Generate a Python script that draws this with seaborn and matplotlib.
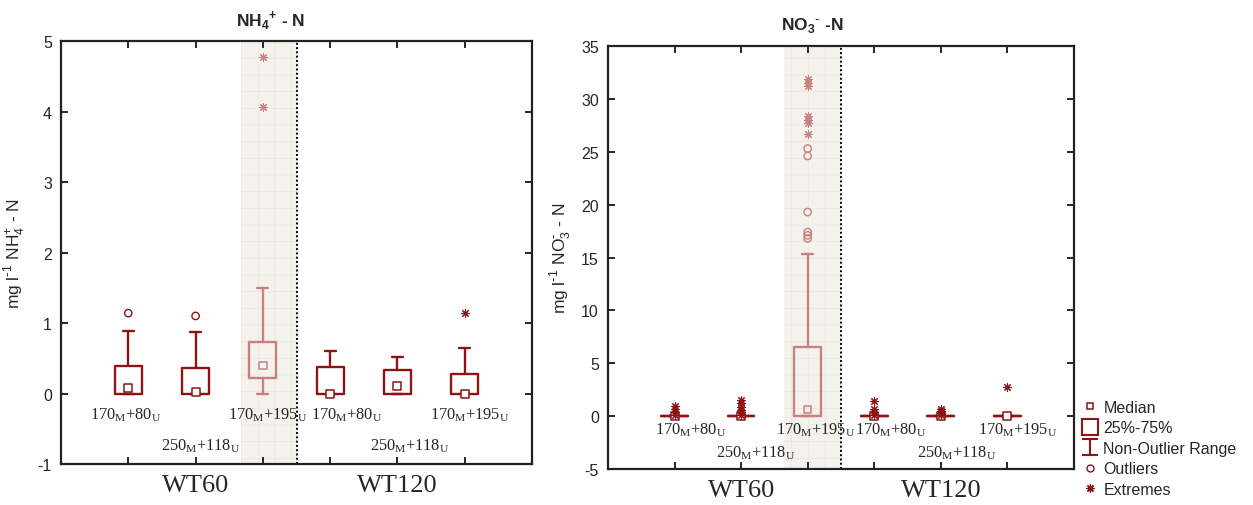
import numpy as np
import pandas as pd
import matplotlib
matplotlib.use("Agg")
import matplotlib.pyplot as plt
import seaborn as sns
from matplotlib.path import Path
from matplotlib.lines import Line2D

# ---------------- data ----------------
treat_labels = [r"170$_\mathregular{M}$+80$_\mathregular{U}$",
                r"250$_\mathregular{M}$+118$_\mathregular{U}$",
                r"170$_\mathregular{M}$+195$_\mathregular{U}$",
                r"170$_\mathregular{M}$+80$_\mathregular{U}$",
                r"250$_\mathregular{M}$+118$_\mathregular{U}$",
                r"170$_\mathregular{M}$+195$_\mathregular{U}$"]
groups = ["WT60", "WT120"]
group_center = [1, 4]

# NH4+ - N
nh4_median = [0.08, 0.02, 0.40, 0.00, 0.10, 0.00]
nh4_q1 = [0.00, 0.00, 0.22, 0.00, 0.00, 0.00]
nh4_q3 = [0.39, 0.36, 0.73, 0.38, 0.33, 0.28]
nh4_wlo = [0.00, 0.00, 0.00, 0.00, 0.00, 0.00]
nh4_whi = [0.89, 0.87, 1.49, 0.61, 0.52, 0.65]
nh4_outliers = [[1.14], [1.10], [], [], [], []]
nh4_extremes = [[], [], [4.78, 4.07], [], [], [1.14]]

# NO3- - N
no3_median = [0.00, 0.00, 0.64, 0.00, 0.00, 0.00]
no3_q1 = [0.00, 0.00, 0.00, 0.00, 0.00, 0.00]
no3_q3 = [0.00, 0.00, 6.57, 0.00, 0.00, 0.00]
no3_wlo = [0.00, 0.00, 0.00, 0.00, 0.00, 0.00]
no3_whi = [0.00, 0.00, 15.33, 0.00, 0.00, 0.00]
no3_outliers = [[], [], [25.3, 24.6, 19.3, 17.4, 17.1, 16.8], [], [], []]
no3_extremes = [[0.1, 0.35, 0.65, 1.0],
                [0.1, 0.35, 0.6, 0.9, 1.2, 1.5],
                [31.9, 31.5, 31.2, 28.4, 28.0, 27.7, 26.7],
                [0.1, 0.35, 0.65, 1.45],
                [0.1, 0.3, 0.5, 0.7],
                [2.8]]

# ---------------- style ----------------
sns.set_style("ticks")
plt.rcParams["font.family"] = ["Liberation Sans", "DejaVu Sans"]
plt.rcParams["axes.unicode_minus"] = False
plt.rcParams["hatch.linewidth"] = 0.4

DARK = "#8C1414"
FADED = "#C98080"
BAND = "#F4F2EC"
HATCH = "#E8E5DD"
SERIF = "Liberation Serif"
ASTER = (8, 2, 0)

# horizontal label offsets (layout only, in category units)
OFF_LEFT = [-0.04, 0.07, 0.07, 0.24, 0.18, 0.07]
OFF_RIGHT = [0.24, 0.22, 0.12, 0.24, 0.24, 0.16]

fig = plt.figure(figsize=(12.53, 5.06), dpi=100)
ax1 = fig.add_axes([0.0487, 0.081, 0.3759, 0.836])
ax2 = fig.add_axes([0.4852, 0.0711, 0.3719, 0.836])


def draw(ax, med, q1, q3, wlo, whi, outl, extr, ylim, yticks, band_lo,
         title, title_x, ylab, ylab_x, row_y, offs):
    ax.axvspan(band_lo, 2.5, facecolor=BAND, edgecolor=HATCH, hatch="+",
               linewidth=0, zorder=0)
    ax.axvline(2.5, color="black", linestyle=(0, (1, 1.2)), lw=1.4, zorder=1)
    for i in range(len(med)):
        c = FADED if i == 2 else DARK
        st = dict(med=med[i], q1=q1[i], q3=q3[i], whislo=wlo[i],
                  whishi=whi[i], fliers=[])
        lp = dict(color=c, linewidth=1.7)
        ax.bxp([st], positions=[i], widths=0.4, capwidths=0.16,
               showfliers=False, boxprops=lp, whiskerprops=lp, capprops=lp,
               medianprops=dict(linestyle="none"), manage_ticks=False)
    # medians
    for i in range(len(med)):
        c = FADED if i == 2 else DARK
        fc = "none" if i == 2 else "white"
        sns.scatterplot(x=[i], y=[med[i]], marker="s", s=30, facecolor=fc,
                        edgecolor=c, linewidth=1.1, ax=ax, zorder=4,
                        legend=False)
    # outliers & extremes
    for i in range(len(med)):
        c = FADED if i == 2 else DARK
        if outl[i]:
            df = pd.DataFrame({"x": [i] * len(outl[i]), "y": outl[i]})
            sns.scatterplot(data=df, x="x", y="y", marker="o", s=28,
                            facecolor="none", edgecolor=c, linewidth=1.0,
                            ax=ax, zorder=4, legend=False)
        if extr[i]:
            df = pd.DataFrame({"x": [i] * len(extr[i]), "y": extr[i]})
            sns.scatterplot(data=df, x="x", y="y", marker=ASTER, s=30,
                            color=c, edgecolor=None, linewidth=0.8,
                            ax=ax, zorder=4, legend=False)
    ax.set_xlim(-1, 6)
    ax.set_ylim(*ylim)
    ax.set_yticks(yticks)
    ax.set_xticks(range(6))
    ax.set_xticklabels([])
    ax.set_xlabel("")
    ax.tick_params(direction="in", length=5, width=1.4, top=True, right=True,
                   labelsize=11.5, pad=6.5)
    for s in ax.spines.values():
        s.set_linewidth(1.6)
        s.set_color("#222222")
    ax.set_ylabel(ylab, fontsize=12.5)
    ax.yaxis.set_label_coords(ylab_x, 0.5)
    ax.text(title_x, 1.052, title, transform=ax.transAxes, ha="center",
            va="center", fontsize=12.5, fontweight="bold")
    for i, lab in enumerate(treat_labels):
        yy = row_y[1] if i in (1, 4) else row_y[0]
        ax.text(i + offs[i], yy, lab, transform=ax.get_xaxis_transform(),
                ha="center", va="center", fontsize=11.8, family=SERIF)
    for g, gx in zip(groups, group_center):
        ax.text(gx, -0.05, g, transform=ax.get_xaxis_transform(),
                ha="center", va="center", fontsize=19, family=SERIF)


draw(ax1, nh4_median, nh4_q1, nh4_q3, nh4_wlo, nh4_whi, nh4_outliers,
     nh4_extremes, (-1, 5), range(-1, 6), 1.67,
     r"NH$_\mathregular{4}$$^\mathregular{+}$ - N", 0.444,
     r"mg l$^{\text{-}\mathregular{1}}$ NH$_\mathregular{4}^\mathregular{+}$ - N",
     -0.072, (0.117, 0.045), OFF_LEFT)
draw(ax2, no3_median, no3_q1, no3_q3, no3_wlo, no3_whi, no3_outliers,
     no3_extremes, (-5, 35), range(-5, 36, 5), 1.65,
     r"NO$_\mathregular{3}$$^{\text{-}}$ -N", 0.438,
     r"mg l$^{\text{-}\mathregular{1}}$ NO$_\mathregular{3}^{\text{-}}$ - N",
     -0.075, (0.095, 0.039), OFF_RIGHT)

# ---------------- legend ----------------
ibeam = Path([(-1, 1), (1, 1), (0, 1), (0, -1), (-1, -1), (1, -1)],
             [Path.MOVETO, Path.LINETO, Path.MOVETO, Path.LINETO,
              Path.MOVETO, Path.LINETO])
handles = [
    Line2D([], [], linestyle="none", marker="s", markersize=5,
           markerfacecolor="white", markeredgecolor=DARK, markeredgewidth=1.1),
    Line2D([], [], linestyle="none", marker="s", markersize=11,
           markerfacecolor="white", markeredgecolor=DARK, markeredgewidth=1.5),
    Line2D([], [], linestyle="none", marker=ibeam, markersize=11,
           markeredgecolor=DARK, markeredgewidth=1.5),
    Line2D([], [], linestyle="none", marker="o", markersize=5,
           markerfacecolor="white", markeredgecolor=DARK, markeredgewidth=1.0),
    Line2D([], [], linestyle="none", marker=ASTER, markersize=6,
           markeredgecolor=DARK, markeredgewidth=0.9),
]
labels = ["Median", "25%-75%", "Non-Outlier Range", "Outliers", "Extremes"]
fig.legend(handles, labels, loc="upper left", bbox_to_anchor=(0.852, 0.236),
           frameon=False, fontsize=11.5, handlelength=1.0, handletextpad=0.35,
           labelspacing=0.34, borderpad=0.4)

fig.savefig("out.png", dpi=100)
